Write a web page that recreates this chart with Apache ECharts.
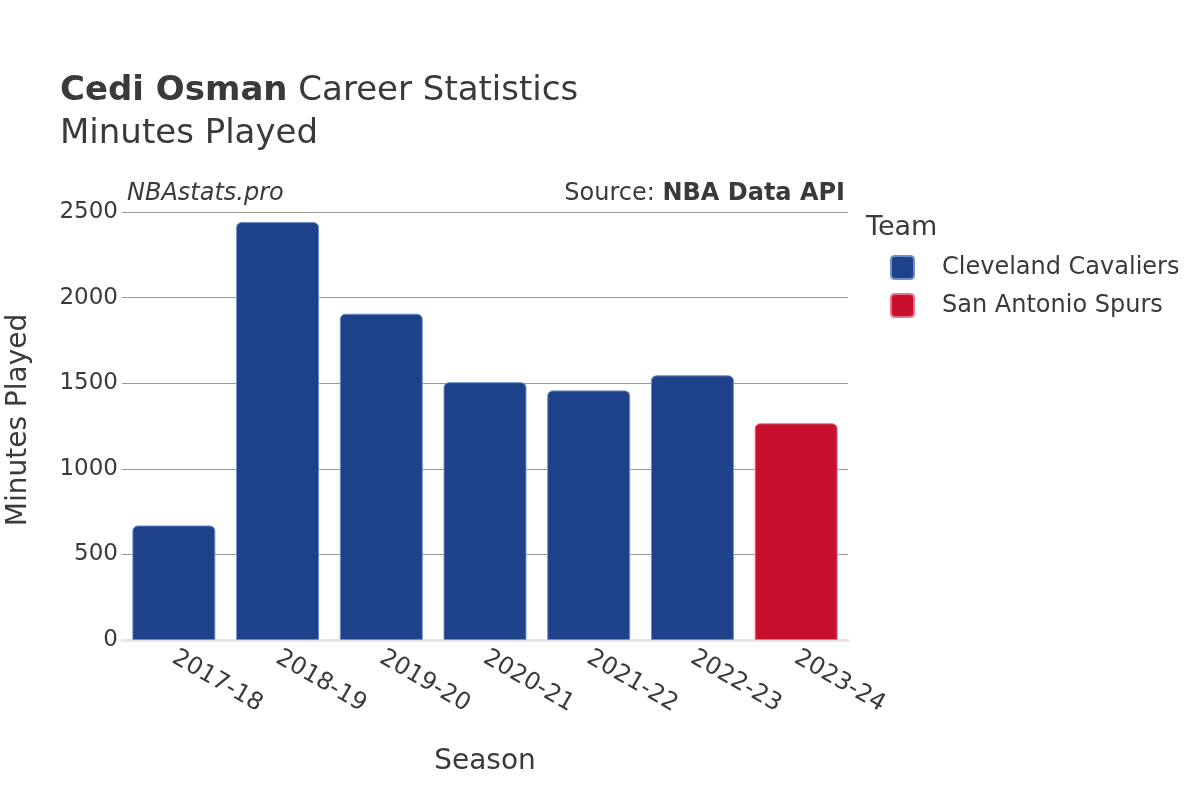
<!DOCTYPE html>
<html>
<head>
<meta charset="utf-8">
<title>Cedi Osman Minutes Played</title>
<script src="https://cdn.jsdelivr.net/npm/echarts@6/dist/echarts.min.js"></script>
<style>
  html, body { margin: 0; padding: 0; background: #fff; }
  #chart { width: 1200px; height: 800px; }
</style>
</head>
<body>
<div id="chart"></div>
<script>
// seasons and minutes
const seasons = ["2017-18", "2018-19", "2019-20", "2020-21", "2021-22", "2022-23", "2023-24"];
const cavaliers = [669, 2441, 1906, 1506, 1458, 1546, null];
const spurs = [null, null, null, null, null, null, 1266];
const yTicks = [0, 500, 1000, 1500, 2000, 2500];

const font = "DejaVu Sans";
const textColor = "#3a3a3a";

const mychart = echarts.init(document.getElementById("chart"), null, { renderer: "canvas" });

const barStyle = (color, border) => ({
  color: color,
  borderColor: border,
  borderWidth: 1,
  borderRadius: [5, 5, 0, 0],
});

const option = {
  backgroundColor: "#ffffff",
  animation: false,
  textStyle: { fontFamily: font },
  title: [
    {
      text: "{b|Cedi Osman} Career Statistics\nMinutes Played",
      left: 55,
      top: 65,
      textStyle: {
        fontFamily: font,
        fontSize: 34,
        fontWeight: "normal",
        color: textColor,
        lineHeight: 43,
        rich: {
          b: { fontFamily: font, fontSize: 34, fontWeight: "bold", color: textColor },
        },
      },
    },
    {
      text: "NBAstats.pro",
      left: 122,
      top: 177,
      textStyle: { fontFamily: font, fontSize: 24, fontStyle: "italic", fontWeight: "normal", color: textColor },
    },
    {
      text: "Source: {b|NBA Data API}",
      right: 350,
      top: 177,
      textStyle: {
        fontFamily: font,
        fontSize: 24,
        fontWeight: "normal",
        color: textColor,
        rich: { b: { fontFamily: font, fontSize: 24, fontWeight: "bold", color: textColor } },
      },
    },
    {
      text: "Team",
      left: 861,
      top: 209,
      textStyle: { fontFamily: font, fontSize: 27, fontWeight: "normal", color: textColor },
    },
  ],
  legend: {
    orient: "vertical",
    left: 885,
    top: 250,
    itemWidth: 23,
    itemHeight: 23,
    itemGap: 13,
    icon: "path://M4,0 L19,0 Q23,0 23,4 L23,19 Q23,23 19,23 L4,23 Q0,23 0,19 L0,4 Q0,0 4,0 Z",
    textStyle: { fontFamily: font, fontSize: 24, color: textColor, padding: [0, 0, 0, 23] },
    data: ["Cleveland Cavaliers", "San Antonio Spurs"],
  },
  grid: { left: 122, right: 352, top: 212, bottom: 160, containLabel: false, outerBoundsMode: "none" },
  xAxis: {
    type: "category",
    data: seasons,
    name: "Season",
    nameLocation: "middle",
    nameGap: 108,
    nameTextStyle: { fontFamily: font, fontSize: 28, color: textColor },
    axisLine: { show: true, lineStyle: { color: "#e6e6e6", width: 3 } },
    axisTick: { show: false },
    axisLabel: {
      rotate: -30,
      fontFamily: font,
      fontSize: 24,
      color: textColor,
      margin: 16,
    },
  },
  yAxis: {
    type: "value",
    min: 0,
    max: 2500,
    interval: 500,
    name: "Minutes Played",
    nameLocation: "middle",
    nameGap: 89,
    nameTextStyle: { fontFamily: font, fontSize: 28, color: textColor, padding: [0, 0, 0, 12] },
    axisLine: { show: false },
    axisTick: { show: false },
    axisLabel: {
      fontFamily: font,
      fontSize: 23,
      color: textColor,
      margin: 4,
      padding: [4, 0, 0, 0],
      formatter: (v) => (yTicks.includes(v) ? String(v) : ""),
    },
    splitLine: { lineStyle: { color: "#9a9a9a", width: 1 } },
  },
  series: [
    {
      name: "Cleveland Cavaliers",
      type: "bar",
      stack: "team",
      data: cavaliers,
      barCategoryGap: "20%",
      itemStyle: barStyle("#1d428a", "#6f8fc8"),
    },
    {
      name: "San Antonio Spurs",
      type: "bar",
      stack: "team",
      data: spurs,
      barCategoryGap: "20%",
      itemStyle: barStyle("#c8102e", "#e8748a"),
    },
  ],
};

mychart.setOption(option);
</script>
</body>
</html>
